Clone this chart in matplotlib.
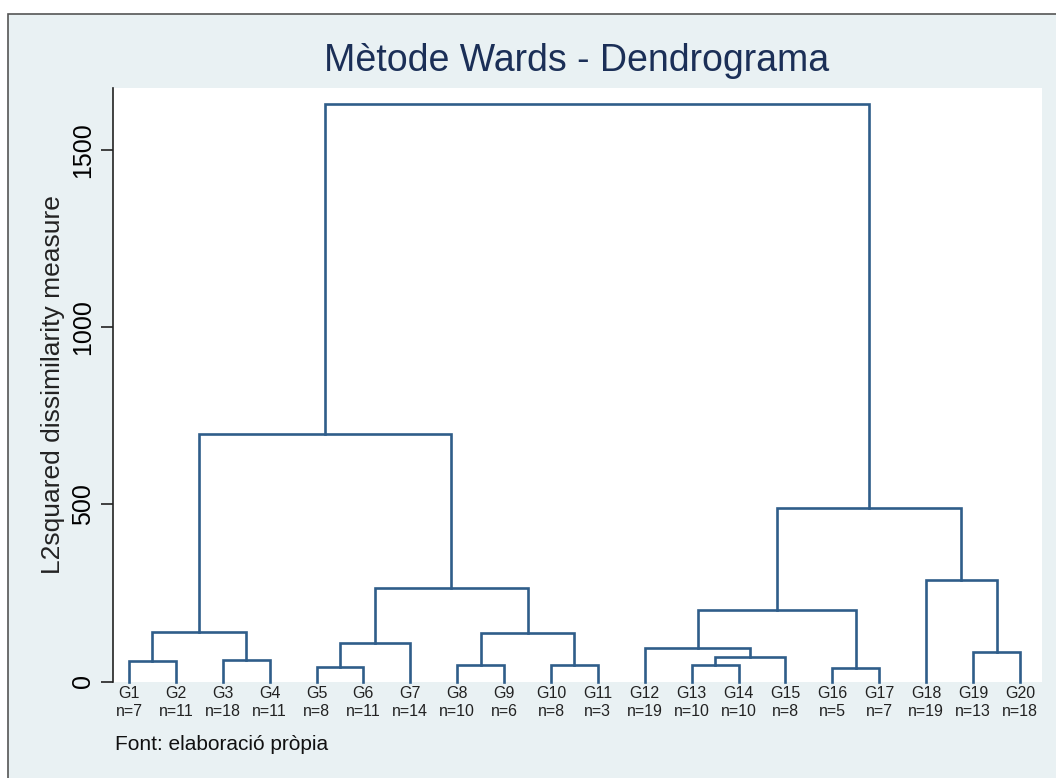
import matplotlib
matplotlib.use("Agg")
import matplotlib.pyplot as plt
from matplotlib.patches import Rectangle

plt.rcParams["font.family"] = ["Liberation Sans", "DejaVu Sans"]

# leaves, left to right
leaf_labels = ["G1", "G2", "G3", "G4", "G5", "G6", "G7", "G8", "G9", "G10",
               "G11", "G12", "G13", "G14", "G15", "G16", "G17", "G18", "G19", "G20"]
leaf_sizes = [7, 11, 18, 11, 8, 11, 14, 10, 6, 8, 3, 19, 10, 10, 8, 5, 7, 19, 13, 18]

# merges: ids 0-19 are leaves, merge k creates id 20+k
merge_left = [0, 2, 4, 7, 9, 12, 15, 25, 18, 11, 22, 23, 20, 29, 30, 17, 33, 32, 37]
merge_right = [1, 3, 5, 8, 10, 13, 16, 14, 19, 27, 6, 24, 21, 26, 31, 28, 35, 34, 36]
merge_height = [59, 62, 42, 48, 48, 47, 37, 69, 82, 95, 110, 136, 141, 203, 263, 288, 489, 700, 1630]

LINE_COLOR = "#2f5d8a"
BG = "#e9f1f3"

fig = plt.figure(figsize=(10.56, 7.78), dpi=100)
fig.patch.set_facecolor("white")
fig.patches.append(Rectangle((8 / 1056, -0.01), 1.0, (778 - 14) / 778 + 0.01,
                             transform=fig.transFigure, facecolor=BG,
                             edgecolor="#555555", linewidth=1.2, zorder=-5))

ax = fig.add_axes([113 / 1056, (778 - 681.5) / 778, (1042 - 113) / 1056, (681.5 - 88) / 778])
ax.set_facecolor("white")

xs = {i: float(i + 1) for i in range(len(leaf_labels))}
hs = {i: 0.0 for i in range(len(leaf_labels))}
for k, (l, r, h) in enumerate(zip(merge_left, merge_right, merge_height)):
    xl, xr = xs[l], xs[r]
    ax.plot([xl, xl, xr, xr], [hs[l], h, h, hs[r]], color=LINE_COLOR,
            linewidth=1.9, solid_joinstyle="miter", clip_on=False)
    xs[20 + k] = (xl + xr) / 2
    hs[20 + k] = h

ax.set_xlim(0.66, 20.47)
ax.set_ylim(0, 1676)

for s in ["top", "right", "bottom"]:
    ax.spines[s].set_visible(False)
ax.spines["left"].set_color("#222222")
ax.spines["left"].set_linewidth(1.2)

ax.set_yticks([0, 500, 1000, 1500])
ax.tick_params(axis="y", length=9, width=1.2, color="#222222", labelsize=18, pad=4)
for t in ax.get_yticklabels():
    t.set_rotation(90)
    t.set_va("center")

ax.set_xticks(range(1, 21))
ax.set_xticklabels([f"{g}\nn={n}" for g, n in zip(leaf_labels, leaf_sizes)],
                   fontsize=11.5, color="#222222", linespacing=1.3)
ax.tick_params(axis="x", length=0, pad=3)

ax.set_ylabel("L2squared dissimilarity measure", fontsize=19, color="#222222", labelpad=4)

fig.text(0.546, 0.921, "Mètode Wards - Dendrograma", ha="center", va="center",
         fontsize=27, color="#1b2f57")
fig.text(115 / 1056, (778 - 745) / 778, "Font: elaboració pròpia", ha="left", va="center",
         fontsize=15, color="#111111")

fig.savefig("out.png", dpi=100, facecolor=fig.get_facecolor())
